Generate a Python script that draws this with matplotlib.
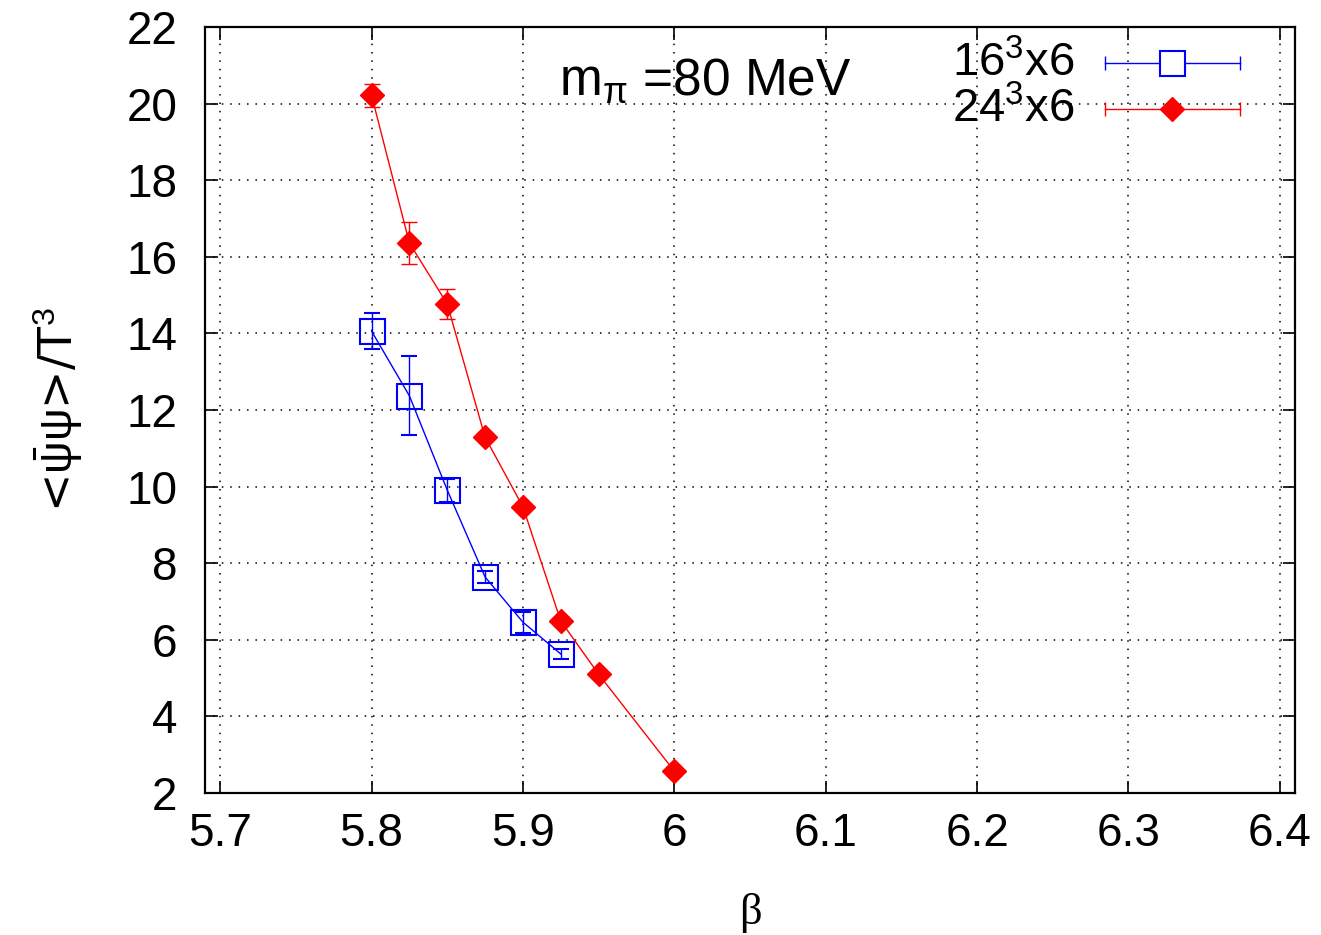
import matplotlib
matplotlib.use("Agg")
from matplotlib import pyplot as plt

# data
beta_16 = [5.8, 5.825, 5.85, 5.875, 5.9, 5.925]
pbp_16 = [14.06, 12.37, 9.91, 7.64, 6.46, 5.63]
err_16 = [0.48, 1.03, 0.30, 0.15, 0.27, 0.12]

beta_24 = [5.8, 5.825, 5.85, 5.875, 5.9, 5.925, 5.95, 6.0]
pbp_24 = [20.22, 16.36, 14.77, 11.29, 9.47, 6.49, 5.10, 2.57]
err_24 = [0.30, 0.55, 0.40, 0.10, 0.10, 0.10, 0.10, 0.10]

xticks = [5.7, 5.8, 5.9, 6.0, 6.1, 6.2, 6.3, 6.4]
xticklabels = ["5.7", "5.8", "5.9", "6", "6.1", "6.2", "6.3", "6.4"]
yticks = [2, 4, 6, 8, 10, 12, 14, 16, 18, 20, 22]

plt.rcParams['font.family'] = ['Liberation Sans', 'DejaVu Sans']
plt.rcParams['mathtext.fontset'] = 'custom'
plt.rcParams['mathtext.rm'] = 'Liberation Sans'
plt.rcParams['mathtext.it'] = 'Liberation Sans'


def main():
    fig = plt.figure(figsize=(13.21, 9.35), dpi=100)
    ax = fig.add_axes([0.1552, 0.1519, 0.8251, 0.8192])

    ax.errorbar(beta_16, pbp_16, yerr=err_16, color='blue', lw=1.0,
                marker='s', ms=18, mfc='none', mec='blue', mew=1.5,
                capsize=5.5, elinewidth=1.0, capthick=1.0, zorder=3)
    ax.errorbar(beta_24, pbp_24, yerr=err_24, color='red', lw=1.0,
                marker='D', ms=12, mfc='red', mec='red',
                capsize=6, elinewidth=1.0, capthick=1.0, zorder=3)

    ax.set_xlim(5.69, 6.41)
    ax.set_ylim(2, 22)
    ax.set_xticks(xticks)
    ax.set_xticklabels(xticklabels)
    ax.set_yticks(yticks)
    ax.tick_params(direction='in', length=9, width=1.2, labelsize=33,
                   top=True, right=True)
    ax.tick_params(axis='x', pad=14)
    ax.tick_params(axis='y', pad=20)
    ax.grid(True, color='black', linestyle=(0, (1, 4.5)), linewidth=1.1)
    for sp in ax.spines.values():
        sp.set_linewidth(1.6)

    ax.set_xlabel("β", fontsize=32, family=['Liberation Serif'], labelpad=26)
    ax.set_ylabel(r"<$\bar{\psi}\psi$>/T$^3$", fontsize=33,
                  family=['DejaVu Sans'], labelpad=30)

    ax.text(0.325, 0.93, r"m$_{\pi}$ =80 MeV", transform=ax.transAxes,
            fontsize=37, va='center', ha='left')

    # hand drawn legend, gnuplot style
    tr = ax.transAxes
    ax.text(0.798, 0.952, r"16$^3$x6", transform=tr, fontsize=34,
            ha='right', va='center')
    ax.text(0.798, 0.892, r"24$^3$x6", transform=tr, fontsize=34,
            ha='right', va='center')
    ax.plot([0.8257, 0.9495], [0.953, 0.953], color='blue', lw=1.0,
            transform=tr, clip_on=False)
    ax.plot([0.8257, 0.9495], [0.953, 0.953], ls='none', marker='|', ms=10,
            mew=1.0, color='blue', transform=tr, clip_on=False)
    ax.plot([0.887], [0.953], ls='none', marker='s', ms=18, mfc='white',
            mec='blue', mew=1.5, transform=tr, clip_on=False)
    ax.plot([0.8257, 0.9495], [0.893, 0.893], color='red', lw=1.0,
            transform=tr, clip_on=False)
    ax.plot([0.8257, 0.9495], [0.893, 0.893], ls='none', marker='|', ms=10,
            mew=1.0, color='red', transform=tr, clip_on=False)
    ax.plot([0.887], [0.893], ls='none', marker='D', ms=12, color='red',
            transform=tr, clip_on=False)

    fig.savefig("out.png", dpi=100)
    return


if __name__ == "__main__":
    main()
